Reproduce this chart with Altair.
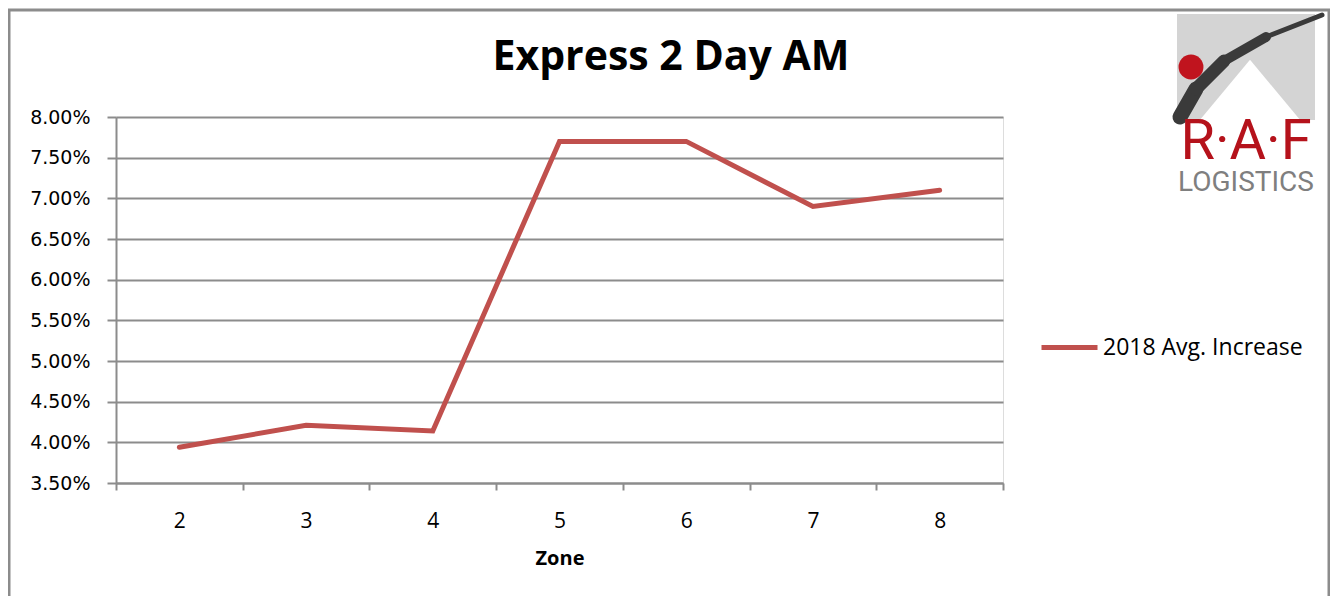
import altair as alt
import pandas as pd

# ---------------- data ----------------
zones = ["2", "3", "4", "5", "6", "7", "8"]
increase = [0.0394, 0.0421, 0.0414, 0.0770, 0.0770, 0.0690, 0.0710]
series_name = "2018 Avg. Increase"
y_ticks = [0.035, 0.040, 0.045, 0.050, 0.055, 0.060, 0.065, 0.070, 0.075, 0.080]
y_domain = [0.035, 0.080]
chart_title = "Express 2 Day AM"
x_title = "Zone"
logo_main = "R·A·F"
logo_sub = "LOGISTICS"

df = pd.DataFrame({"Zone": zones, "value": increase, "series": series_name})

W, H = 887, 366
LINE_COLOR = "#C0504D"
GRID = "#8C8C8C"

base = alt.Chart(df)

line = base.mark_line(strokeWidth=5, strokeCap="round", strokeJoin="miter").encode(
    x=alt.X(
        "Zone:N",
        sort=zones,
        bandPosition=0.5,
        scale=alt.Scale(type="band", paddingInner=0, paddingOuter=0),
        axis=alt.Axis(
            title=x_title,
            tickBand="extent",
            labelAngle=0,
            labelFont="Open Sans",
            labelFontSize=21,
            labelColor="#000000",
            labelPadding=20,
            tickSize=7,
            tickColor=GRID,
            tickWidth=2,
            domainColor=GRID,
            domainWidth=2,
            grid=False,
            titleFont="Open Sans",
            titleFontSize=20,
            titleFontWeight="bold",
            titleColor="#000000",
            titlePadding=17,
        ),
    ),
    y=alt.Y(
        "value:Q",
        scale=alt.Scale(domain=y_domain, nice=False, zero=False),
        axis=alt.Axis(
            title=None,
            values=y_ticks,
            format=".2%",
            labelFont="DejaVu Sans",
            labelFontSize=19,
            labelColor="#000000",
            labelPadding=17,
            tickSize=9,
            tickColor=GRID,
            tickWidth=2,
            domainColor=GRID,
            domainWidth=2,
            grid=True,
            gridColor=GRID,
            gridWidth=2,
        ),
    ),
    color=alt.Color(
        "series:N",
        scale=alt.Scale(range=[LINE_COLOR]),
        legend=alt.Legend(
            title=None,
            orient="none",
            legendX=923,
            legendY=200,
            symbolType="stroke",
            symbolSize=3136,
            symbolStrokeWidth=5,
            labelFont="Open Sans",
            labelFontSize=23,
            labelColor="#000000",
            labelOffset=3,
            labelLimit=0,
            padding=0,
        ),
    ),
)

one = pd.DataFrame({"t": [logo_main], "s": [logo_sub], "title": [chart_title]})
lg = alt.Chart(one)

title_mark = lg.mark_text(
    font="Open Sans", fontSize=41, fontWeight="bold", color="#000000",
    align="center", baseline="alphabetic",
).encode(x=alt.value(555), y=alt.value(-47), text="title:N")

# logo (stand-in drawn from simple shapes + text)
logo_bg = lg.mark_rect(color="#D4D4D4").encode(
    x=alt.value(1061), x2=alt.value(1199), y=alt.value(-103), y2=alt.value(3)
)
logo_tri = lg.mark_point(
    shape="M0,-0.6L1,0.6L-1,0.6Z", filled=True, color="#FFFFFF", opacity=1, size=15376
).encode(x=alt.value(1134), y=alt.value(-20))
swoosh_segs = [
    (1064, 0, 1080, -28, 15),
    (1080, -28, 1108, -56, 13),
    (1108, -56, 1150, -80, 10),
    (1150, -80, 1206, -102, 5),
]
swoosh = [
    lg.mark_rule(color="#3A3A3A", strokeCap="round").encode(
        x=alt.value(a), y=alt.value(b), x2=alt.value(c), y2=alt.value(d),
        strokeWidth=alt.value(w),
    )
    for a, b, c, d, w in swoosh_segs
]
logo_dot = lg.mark_point(filled=True, color="#C0141E", opacity=1, size=620).encode(
    x=alt.value(1075), y=alt.value(-50)
)
logo_txt = lg.mark_text(
    font="Roboto", fontSize=56, color="#B5121B", align="center", baseline="alphabetic"
).encode(x=alt.value(1130), y=alt.value(42), text="t:N")
logo_txt2 = lg.mark_text(
    font="Roboto", fontSize=28, color="#7F7F7F", align="center", baseline="alphabetic"
).encode(x=alt.value(1130), y=alt.value(74), text="s:N")

# outer frame of the chart
frame = lg.mark_rect(fill=None, stroke="#8C8C8C", strokeWidth=3).encode(
    x=alt.value(-107), x2=alt.value(1213), y=alt.value(-107), y2=alt.value(600)
)

chart = alt.layer(
    frame, title_mark, line, logo_bg, logo_tri, *swoosh, logo_dot, logo_txt, logo_txt2
).properties(
    width=W,
    height=H,
    autosize=alt.AutoSizeParams(type="none"),
    padding={"left": 108, "top": 109, "right": 1322 - 108 - W, "bottom": 588 - 109 - H},
).configure_view(stroke=None).configure(background="#FFFFFF")

chart.save("out.html", embed_options={"renderer": "svg", "actions": False})
